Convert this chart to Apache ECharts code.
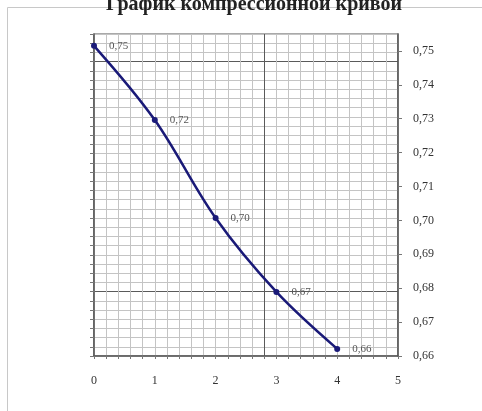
<!DOCTYPE html>
<html>
<head>
<meta charset="utf-8">
<script src="https://cdn.jsdelivr.net/npm/echarts@6/dist/echarts.min.js"></script>
<style>
  html, body { margin: 0; padding: 0; background: #fff; }
  #chart { width: 482px; height: 411px; }
</style>
</head>
<body>
<div id="chart"></div>
<script>
// Compression curve: void ratio e against load step
const loadSteps = [0, 1, 2, 3, 4];
const voidRatio = [0.7465, 0.7246, 0.6957, 0.6739, 0.6571];

// Tick labels of the visible axes
const xTickLabels = [0, 1, 2, 3, 4, 5];
const yTickLabels = [0.66, 0.67, 0.68, 0.69, 0.70, 0.71, 0.72, 0.73, 0.74, 0.75];

const serif = '"Liberation Serif", "DejaVu Serif", serif';
const comma2 = v => Number(v).toFixed(2).replace('.', ',');

// graph-paper grid: light rules with an occasional darker one
const LIGHT = '#c4c4c4', DARK = '#5a5a5a';
const vRuleColors = Array.from({ length: 26 }, (_, i) => (i === 14 ? DARK : LIGHT));
const hRuleColors = Array.from({ length: 25 }, (_, i) => (i === 7 ? DARK : LIGHT));

const chart = echarts.init(document.getElementById('chart'));
chart.setOption({
  animation: false,
  backgroundColor: '#fff',
  title: {
    text: 'График компрессионной кривой',
    left: 249,
    textAlign: 'center',
    top: -10,
    textStyle: { fontFamily: serif, fontSize: 20, fontWeight: 'bold', color: '#222' }
  },
  graphic: [{
    type: 'rect',
    shape: { x: 7.5, y: 7.5, width: 500, height: 420 },
    style: { fill: null, stroke: '#c8c8c8', lineWidth: 1 },
    silent: true,
    z: -1
  }],
  grid: {
    left: 94, right: 84, top: 34, bottom: 55,
    show: true, borderColor: '#555', borderWidth: 1.2, backgroundColor: '#fff'
  },
  xAxis: [
    {
      type: 'value', min: 0, max: 5, interval: 1, position: 'bottom',
      axisLine: { show: true, onZero: false, lineStyle: { color: '#555', width: 1.5 } },
      axisTick: { show: false },
      splitLine: { show: false },
      axisLabel: {
        customValues: xTickLabels,
        margin: 19,
        fontFamily: serif, fontSize: 12, color: '#333'
      }
    },
    {
      // graph-paper verticals
      type: 'value', min: 0, max: 25, interval: 1, position: 'bottom',
      axisLine: { show: false, onZero: false },
      axisTick: { show: true, length: 3, lineStyle: { color: '#777' } },
      axisLabel: { show: false },
      splitLine: { show: true, lineStyle: { color: vRuleColors, width: 1 } }
    }
  ],
  yAxis: [
    {
      // scale of the plotted series
      type: 'value', min: 0.655, max: 0.75, position: 'left', show: false
    },
    {
      type: 'value', min: 0.66, max: 0.755, position: 'right',
      axisLine: { show: true, onZero: false, lineStyle: { color: '#555', width: 1.5 } },
      axisTick: { show: true, customValues: yTickLabels, length: 4, lineStyle: { color: '#777' } },
      splitLine: { show: false },
      axisLabel: {
        customValues: yTickLabels,
        margin: 15,
        formatter: comma2,
        fontFamily: serif, fontSize: 12, color: '#333'
      }
    },
    {
      // graph-paper horizontals
      type: 'value', min: 0, max: 35, interval: 1, position: 'left',
      axisLine: { show: true, onZero: false, lineStyle: { color: '#555', width: 1.5 } },
      axisTick: { show: true, length: 4, lineStyle: { color: '#777' } },
      axisLabel: { show: false },
      splitLine: { show: true, lineStyle: { color: hRuleColors, width: 1 } }
    }
  ],
  series: [{
    type: 'line',
    xAxisIndex: 0,
    yAxisIndex: 0,
    smooth: 0.35,
    data: loadSteps.map((x, i) => [x, voidRatio[i]]),
    symbol: 'circle',
    symbolSize: 6,
    itemStyle: { color: '#1a1a78' },
    lineStyle: { color: '#1a1a78', width: 2.5 },
    label: {
      show: true,
      position: 'right',
      distance: 12,
      formatter: p => comma2(p.value[1]),
      fontFamily: serif, fontSize: 11, color: '#555'
    },
    z: 5
  }]
});
</script>
</body>
</html>
